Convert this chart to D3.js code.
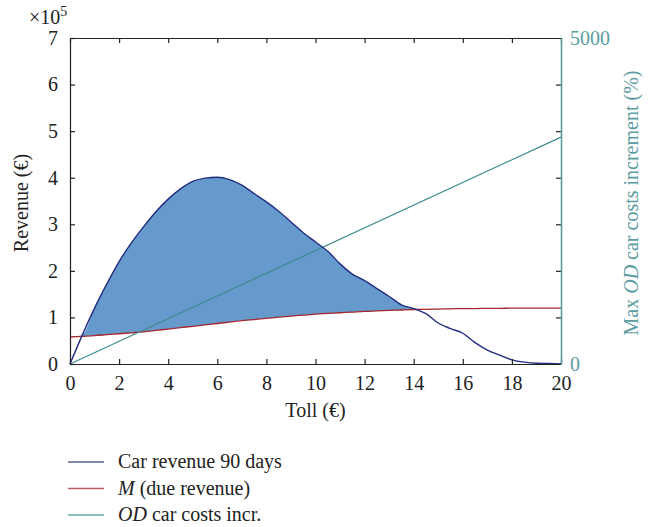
<!DOCTYPE html>
<html lang="en">
<head>
  <meta charset="UTF-8">
  <script src="https://d3js.org/d3.v7.min.js"></script>
  <style>
    body { margin: 0; background: white; }
    text { font-family: "Liberation Serif", "DejaVu Serif", serif; }
  </style>
</head>
<body>
  <div id="chart"></div>
  <script>
    // toll grid (euro) and series (revenue in units of 1e5 euro)
    const toll = [0, 0.5, 1, 1.5, 2, 2.5, 3, 3.5, 4, 4.5, 5, 5.5, 6, 6.5, 7, 7.5, 8, 8.5, 9, 9.5, 10,
                  10.5, 11, 11.5, 12, 12.5, 13, 13.5, 14, 14.5, 15, 15.5, 16, 16.5, 17, 17.5, 18, 18.5, 19, 19.5, 20];
    const carRevenue = [0, 0.62, 1.20, 1.72, 2.20, 2.60, 2.95, 3.27, 3.54, 3.76, 3.92, 3.99, 4.01, 3.96, 3.84, 3.66, 3.48, 3.28, 3.05, 2.82, 2.62,
                        2.42, 2.15, 1.93, 1.79, 1.62, 1.45, 1.27, 1.19, 1.08, 0.88, 0.76, 0.66, 0.46, 0.30, 0.19, 0.09, 0.04, 0.015, 0.01, 0];
    const dueRevenue = [0.58, 0.595, 0.61, 0.63, 0.65, 0.67, 0.69, 0.72, 0.75, 0.78, 0.81, 0.84, 0.87, 0.90, 0.93, 0.955, 0.98, 1.005, 1.03, 1.05, 1.07,
                        1.085, 1.10, 1.115, 1.13, 1.14, 1.15, 1.16, 1.17, 1.175, 1.18, 1.185, 1.19, 1.19, 1.195, 1.195, 1.20, 1.20, 1.20, 1.20, 1.20];
    const odToll = [0, 20];
    const odIncr = [0, 3480];

    const xTicks = [0, 2, 4, 6, 8, 10, 12, 14, 16, 18, 20];
    const yTicks = [0, 1, 2, 3, 4, 5, 6, 7];
    const y2Ticks = [0, 5000];
    const legendLabels = ["Car revenue 90 days", "M (due revenue)", "OD car costs incr."];

    const W = 659, H = 527;
    const margin = { left: 70, top: 38, right: 98, bottom: 163 };
    const width = W - margin.left - margin.right,
          height = H - margin.top - margin.bottom;

    const blue = "#232d80", red = "#a3272c", teal = "#3b8c8e", tealAxis = "#5a9ca2", fillCol = "#6699cc";

    const svg = d3.select("#chart").append("svg")
      .attr("width", W).attr("height", H);
    const g = svg.append("g").attr("transform", `translate(${margin.left},${margin.top})`);

    const x = d3.scaleLinear().domain([0, 20]).range([0, width]);
    const y = d3.scaleLinear().domain([0, 7]).range([height, 0]);
    const y2 = d3.scaleLinear().domain([0, 5000]).range([height, 0]);

    const rows = toll.map((t, i) => ({ t: t, rev: carRevenue[i], due: dueRevenue[i] }));

    // shaded region where revenue exceeds due revenue
    g.append("path")
      .datum(rows)
      .attr("fill", fillCol)
      .attr("d", d3.area()
        .curve(d3.curveMonotoneX)
        .x(d => x(d.t))
        .y0(d => y(d.due))
        .y1(d => y(Math.max(d.rev, d.due))));

    g.append("path").datum(rows)
      .attr("fill", "none").attr("stroke", red).attr("stroke-width", 1.3)
      .attr("d", d3.line().curve(d3.curveMonotoneX).x(d => x(d.t)).y(d => y(d.due)));

    g.append("path").datum(odToll.map((t, i) => ({ t: t, v: odIncr[i] })))
      .attr("fill", "none").attr("stroke", teal).attr("stroke-width", 1.2)
      .attr("d", d3.line().x(d => x(d.t)).y(d => y2(d.v)));

    g.append("path").datum(rows)
      .attr("fill", "none").attr("stroke", blue).attr("stroke-width", 1.4)
      .attr("d", d3.line().curve(d3.curveMonotoneX).x(d => x(d.t)).y(d => y(d.rev)));

    // frame: top border with ticks, bottom axis, left axis
    const tickFont = 20;

    const topAxis = g.append("g").call(d3.axisTop(x).tickValues(xTicks).tickSizeInner(-5).tickSizeOuter(0).tickFormat(""));
    const bottomAxis = g.append("g").attr("transform", `translate(0,${height})`)
      .call(d3.axisBottom(x).tickValues(xTicks).tickSizeInner(-5).tickSizeOuter(0).tickPadding(12).tickFormat(d3.format("d")));
    const leftAxis = g.append("g")
      .call(d3.axisLeft(y).tickValues(yTicks).tickSizeInner(-5).tickSizeOuter(0).tickPadding(12).tickFormat(d3.format("d")));
    // mirrored ticks on the right side
    const rightTicks = g.append("g").attr("transform", `translate(${width},0)`)
      .call(d3.axisRight(y).tickValues(yTicks.slice(1, 7)).tickSizeInner(-5).tickSizeOuter(0).tickFormat(""));
    rightTicks.select(".domain").remove();

    [topAxis, bottomAxis, leftAxis, rightTicks].forEach(a => {
      a.selectAll("path.domain").attr("stroke", "#222").attr("stroke-width", 1.2);
      a.selectAll(".tick line").attr("stroke", "#222").attr("stroke-width", 1.2);
      a.selectAll(".tick text").attr("font-size", tickFont).attr("fill", "#222")
        .attr("font-family", "Liberation Serif, serif");
    });

    // right axis (OD cost increment)
    const rightAxis = g.append("g").attr("transform", `translate(${width},0)`)
      .call(d3.axisRight(y2).tickValues(y2Ticks).tickSize(0).tickPadding(9).tickFormat(d3.format("d")));
    rightAxis.select(".domain").attr("stroke", tealAxis).attr("stroke-width", 1.6);
    rightAxis.selectAll(".tick text").attr("font-size", tickFont).attr("fill", tealAxis)
      .attr("font-family", "Liberation Serif, serif");

    // multiplier
    const mult = svg.append("text").attr("x", 29).attr("y", 24).attr("font-size", tickFont).attr("fill", "#222");
    mult.append("tspan").text("×10");
    mult.append("tspan").attr("font-size", 14).attr("dy", -8).text("5");

    // axis titles
    svg.append("text")
      .attr("x", margin.left + width / 2).attr("y", 417)
      .attr("text-anchor", "middle").attr("font-size", tickFont).attr("fill", "#222")
      .text("Toll (€)");

    svg.append("text")
      .attr("transform", `translate(28,${margin.top + height / 2 + 2}) rotate(-90)`)
      .attr("text-anchor", "middle").attr("font-size", tickFont).attr("fill", "#222")
      .text("Revenue (€)");

    const rt = svg.append("text")
      .attr("transform", `translate(638,${margin.top + height / 2 + 2}) rotate(-90)`)
      .attr("text-anchor", "middle").attr("font-size", tickFont).attr("fill", tealAxis);
    rt.append("tspan").text("Max ");
    rt.append("tspan").attr("font-style", "italic").text("OD");
    rt.append("tspan").text(" car costs increment (%)");

    // legend
    const legendColors = [blue, red, teal];
    const leg = svg.append("g");
    legendLabels.forEach((lab, i) => {
      const ly = 462 + i * 26.5;
      leg.append("line").attr("x1", 68).attr("x2", 104).attr("y1", ly).attr("y2", ly)
        .attr("stroke", legendColors[i]).attr("stroke-width", 1.3).attr("opacity", 0.75);
      const t = leg.append("text").attr("x", 118).attr("y", ly + 6)
        .attr("font-size", tickFont).attr("fill", "#222");
      if (i === 1) {
        t.append("tspan").attr("font-style", "italic").text("M");
        t.append("tspan").text(" (due revenue)");
      } else if (i === 2) {
        t.append("tspan").attr("font-style", "italic").text("OD");
        t.append("tspan").text(" car costs incr.");
      } else {
        t.text(lab);
      }
    });
  </script>
</body>
</html>
